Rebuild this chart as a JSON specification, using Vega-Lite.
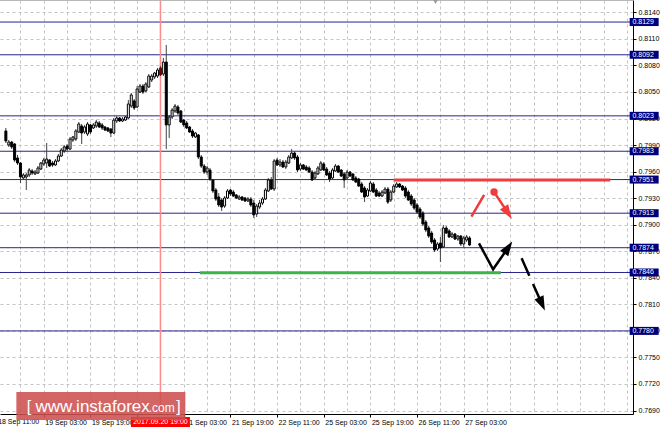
{
"$schema":"https://vega.github.io/schema/vega-lite/v6.json",
"width":633,"height":414,
"autosize":{"type":"none"},
"padding":{"left":0,"top":0,"right":31,"bottom":16},
"background":"#ffffff",
"config":{"view":{"stroke":null},"font":"Liberation Sans"},
"datasets":{
"levels":[{"v":0.8129},{"v":0.8092},{"v":0.8023},{"v":0.7983},{"v":0.7951},{"v":0.7913},{"v":0.7874},{"v":0.7846},{"v":0.7780}],
"cursor":[{"t":56}],
"hlines":[{"k":"support","x1":69.49,"x2":172.76,"v":0.78457},{"k":"resistance","x1":135.98,"x2":210.23,"v":0.79505}],
"redArrows":[{"s":"a","k":0,"x":162.63,"y":0.79090},{"s":"a","k":1,"x":167.0,"y":0.79336},{"s":"b","k":0,"x":170.4,"y":0.79369},{"s":"b","k":1,"x":174.82,"y":0.79150}],
"blackArrows":[{"s":"z","k":0,"x":165.24,"y":0.78790},{"s":"z","k":1,"x":170.07,"y":0.78496},{"s":"z","k":2,"x":174.92,"y":0.78726}],
"dashArrows":[{"s":"d","k":0,"x":179.85,"y":0.78620},{"s":"d","k":1,"x":186.57,"y":0.78123}],
"candles":[
{"i":3,"o":0.80059,"h":0.80093,"l":0.79923,"c":0.79946},
{"i":4,"o":0.79901,"h":0.79957,"l":0.79878,"c":0.79934},
{"i":5,"o":0.79934,"h":0.79946,"l":0.79855,"c":0.79878},
{"i":6,"o":0.79912,"h":0.79923,"l":0.79708,"c":0.79731},
{"i":7,"o":0.79754,"h":0.79788,"l":0.79675,"c":0.79697},
{"i":8,"o":0.79697,"h":0.79708,"l":0.79471,"c":0.79539},
{"i":9,"o":0.79528,"h":0.79584,"l":0.79505,"c":0.79562},
{"i":10,"o":0.79539,"h":0.79584,"l":0.79392,"c":0.79562},
{"i":11,"o":0.79562,"h":0.79641,"l":0.79539,"c":0.79618},
{"i":12,"o":0.79607,"h":0.79629,"l":0.79562,"c":0.79584},
{"i":13,"o":0.79573,"h":0.79618,"l":0.79562,"c":0.79595},
{"i":14,"o":0.79584,"h":0.79663,"l":0.79573,"c":0.79641},
{"i":15,"o":0.79629,"h":0.79708,"l":0.79618,"c":0.79697},
{"i":16,"o":0.79686,"h":0.79754,"l":0.79663,"c":0.79731},
{"i":17,"o":0.79697,"h":0.79923,"l":0.79641,"c":0.79742},
{"i":18,"o":0.79731,"h":0.79742,"l":0.79652,"c":0.79663},
{"i":19,"o":0.79697,"h":0.79720,"l":0.79652,"c":0.79675},
{"i":20,"o":0.79675,"h":0.79742,"l":0.79663,"c":0.79720},
{"i":21,"o":0.79720,"h":0.79799,"l":0.79708,"c":0.79776},
{"i":22,"o":0.79776,"h":0.79867,"l":0.79765,"c":0.79844},
{"i":23,"o":0.79833,"h":0.79901,"l":0.79810,"c":0.79878},
{"i":24,"o":0.79889,"h":0.79912,"l":0.79833,"c":0.79855},
{"i":25,"o":0.79855,"h":0.79991,"l":0.79844,"c":0.79968},
{"i":26,"o":0.79957,"h":0.80002,"l":0.79934,"c":0.79991},
{"i":27,"o":0.79968,"h":0.80081,"l":0.79946,"c":0.80059},
{"i":28,"o":0.80047,"h":0.80160,"l":0.80036,"c":0.80138},
{"i":29,"o":0.80115,"h":0.80138,"l":0.79912,"c":0.80036},
{"i":30,"o":0.80047,"h":0.80127,"l":0.80025,"c":0.80104},
{"i":31,"o":0.80025,"h":0.80160,"l":0.80002,"c":0.80138},
{"i":32,"o":0.80127,"h":0.80138,"l":0.80025,"c":0.80047},
{"i":33,"o":0.80093,"h":0.80149,"l":0.80081,"c":0.80127},
{"i":34,"o":0.80115,"h":0.80183,"l":0.80093,"c":0.80160},
{"i":35,"o":0.80149,"h":0.80172,"l":0.80093,"c":0.80104},
{"i":36,"o":0.80127,"h":0.80149,"l":0.80070,"c":0.80093},
{"i":37,"o":0.80104,"h":0.80115,"l":0.80059,"c":0.80070},
{"i":38,"o":0.80093,"h":0.80104,"l":0.80047,"c":0.80059},
{"i":39,"o":0.80081,"h":0.80093,"l":0.79991,"c":0.80036},
{"i":40,"o":0.80036,"h":0.80206,"l":0.80025,"c":0.80183},
{"i":41,"o":0.80172,"h":0.80228,"l":0.80149,"c":0.80206},
{"i":42,"o":0.80206,"h":0.80217,"l":0.80160,"c":0.80172},
{"i":43,"o":0.80172,"h":0.80217,"l":0.80160,"c":0.80194},
{"i":44,"o":0.80183,"h":0.80228,"l":0.80172,"c":0.80217},
{"i":45,"o":0.80206,"h":0.80409,"l":0.80194,"c":0.80364},
{"i":46,"o":0.80341,"h":0.80488,"l":0.80319,"c":0.80466},
{"i":47,"o":0.80398,"h":0.80420,"l":0.80296,"c":0.80319},
{"i":48,"o":0.80330,"h":0.80567,"l":0.80319,"c":0.80533},
{"i":49,"o":0.80499,"h":0.80590,"l":0.80488,"c":0.80567},
{"i":50,"o":0.80567,"h":0.80590,"l":0.80477,"c":0.80499},
{"i":51,"o":0.80511,"h":0.80612,"l":0.80499,"c":0.80590},
{"i":52,"o":0.80556,"h":0.80703,"l":0.80545,"c":0.80680},
{"i":53,"o":0.80635,"h":0.80703,"l":0.80612,"c":0.80680},
{"i":54,"o":0.80669,"h":0.80725,"l":0.80646,"c":0.80714},
{"i":55,"o":0.80680,"h":0.80771,"l":0.80658,"c":0.80748},
{"i":56,"o":0.80771,"h":0.80793,"l":0.80680,"c":0.80692},
{"i":57,"o":0.80703,"h":0.80884,"l":0.80680,"c":0.80838},
{"i":58,"o":0.80838,"h":0.81031,"l":0.79855,"c":0.80127},
{"i":59,"o":0.80127,"h":0.80240,"l":0.79980,"c":0.80217},
{"i":60,"o":0.80217,"h":0.80319,"l":0.80194,"c":0.80296},
{"i":61,"o":0.80285,"h":0.80364,"l":0.80262,"c":0.80341},
{"i":62,"o":0.80330,"h":0.80353,"l":0.80240,"c":0.80262},
{"i":63,"o":0.80285,"h":0.80296,"l":0.80149,"c":0.80160},
{"i":64,"o":0.80183,"h":0.80194,"l":0.80104,"c":0.80127},
{"i":65,"o":0.80149,"h":0.80172,"l":0.80081,"c":0.80093},
{"i":66,"o":0.80104,"h":0.80115,"l":0.80036,"c":0.80047},
{"i":67,"o":0.80059,"h":0.80081,"l":0.79980,"c":0.80002},
{"i":68,"o":0.79991,"h":0.80047,"l":0.79980,"c":0.80036},
{"i":69,"o":0.80014,"h":0.80025,"l":0.79742,"c":0.79765},
{"i":70,"o":0.79765,"h":0.79788,"l":0.79641,"c":0.79663},
{"i":71,"o":0.79663,"h":0.79686,"l":0.79573,"c":0.79595},
{"i":72,"o":0.79595,"h":0.79663,"l":0.79562,"c":0.79641},
{"i":73,"o":0.79618,"h":0.79641,"l":0.79494,"c":0.79516},
{"i":74,"o":0.79505,"h":0.79516,"l":0.79358,"c":0.79381},
{"i":75,"o":0.79392,"h":0.79415,"l":0.79268,"c":0.79290},
{"i":76,"o":0.79313,"h":0.79358,"l":0.79200,"c":0.79223},
{"i":77,"o":0.79279,"h":0.79302,"l":0.79155,"c":0.79200},
{"i":78,"o":0.79211,"h":0.79324,"l":0.79189,"c":0.79302},
{"i":79,"o":0.79302,"h":0.79403,"l":0.79290,"c":0.79381},
{"i":80,"o":0.79392,"h":0.79403,"l":0.79324,"c":0.79347},
{"i":81,"o":0.79369,"h":0.79392,"l":0.79313,"c":0.79324},
{"i":82,"o":0.79336,"h":0.79347,"l":0.79290,"c":0.79302},
{"i":83,"o":0.79290,"h":0.79336,"l":0.79279,"c":0.79313},
{"i":84,"o":0.79313,"h":0.79324,"l":0.79268,"c":0.79279},
{"i":85,"o":0.79302,"h":0.79313,"l":0.79256,"c":0.79268},
{"i":86,"o":0.79268,"h":0.79313,"l":0.79256,"c":0.79290},
{"i":87,"o":0.79290,"h":0.79313,"l":0.79200,"c":0.79223},
{"i":88,"o":0.79245,"h":0.79279,"l":0.79076,"c":0.79110},
{"i":89,"o":0.79121,"h":0.79234,"l":0.79087,"c":0.79211},
{"i":90,"o":0.79200,"h":0.79279,"l":0.79177,"c":0.79245},
{"i":91,"o":0.79245,"h":0.79313,"l":0.79223,"c":0.79290},
{"i":92,"o":0.79290,"h":0.79415,"l":0.79279,"c":0.79392},
{"i":93,"o":0.79381,"h":0.79528,"l":0.79369,"c":0.79505},
{"i":94,"o":0.79505,"h":0.79539,"l":0.79392,"c":0.79403},
{"i":95,"o":0.79403,"h":0.79742,"l":0.79381,"c":0.79720},
{"i":96,"o":0.79731,"h":0.79754,"l":0.79663,"c":0.79675},
{"i":97,"o":0.79675,"h":0.79742,"l":0.79652,"c":0.79708},
{"i":98,"o":0.79708,"h":0.79731,"l":0.79641,"c":0.79652},
{"i":99,"o":0.79652,"h":0.79731,"l":0.79629,"c":0.79708},
{"i":100,"o":0.79697,"h":0.79788,"l":0.79686,"c":0.79765},
{"i":101,"o":0.79754,"h":0.79855,"l":0.79742,"c":0.79810},
{"i":102,"o":0.79810,"h":0.79833,"l":0.79731,"c":0.79754},
{"i":103,"o":0.79765,"h":0.79788,"l":0.79595,"c":0.79618},
{"i":104,"o":0.79629,"h":0.79697,"l":0.79607,"c":0.79675},
{"i":105,"o":0.79675,"h":0.79686,"l":0.79618,"c":0.79629},
{"i":106,"o":0.79652,"h":0.79675,"l":0.79607,"c":0.79618},
{"i":107,"o":0.79641,"h":0.79663,"l":0.79584,"c":0.79595},
{"i":108,"o":0.79595,"h":0.79618,"l":0.79494,"c":0.79505},
{"i":109,"o":0.79528,"h":0.79607,"l":0.79516,"c":0.79584},
{"i":110,"o":0.79573,"h":0.79663,"l":0.79562,"c":0.79641},
{"i":111,"o":0.79618,"h":0.79720,"l":0.79607,"c":0.79697},
{"i":112,"o":0.79686,"h":0.79708,"l":0.79607,"c":0.79618},
{"i":113,"o":0.79629,"h":0.79652,"l":0.79550,"c":0.79562},
{"i":114,"o":0.79584,"h":0.79607,"l":0.79482,"c":0.79516},
{"i":115,"o":0.79528,"h":0.79641,"l":0.79505,"c":0.79618},
{"i":116,"o":0.79607,"h":0.79686,"l":0.79595,"c":0.79663},
{"i":117,"o":0.79663,"h":0.79675,"l":0.79584,"c":0.79595},
{"i":118,"o":0.79618,"h":0.79629,"l":0.79539,"c":0.79550},
{"i":119,"o":0.79573,"h":0.79595,"l":0.79415,"c":0.79505},
{"i":120,"o":0.79528,"h":0.79618,"l":0.79505,"c":0.79595},
{"i":121,"o":0.79595,"h":0.79607,"l":0.79539,"c":0.79550},
{"i":122,"o":0.79573,"h":0.79584,"l":0.79494,"c":0.79505},
{"i":123,"o":0.79528,"h":0.79550,"l":0.79471,"c":0.79482},
{"i":124,"o":0.79516,"h":0.79528,"l":0.79426,"c":0.79437},
{"i":125,"o":0.79460,"h":0.79482,"l":0.79358,"c":0.79369},
{"i":126,"o":0.79415,"h":0.79437,"l":0.79256,"c":0.79313},
{"i":127,"o":0.79324,"h":0.79415,"l":0.79313,"c":0.79392},
{"i":128,"o":0.79381,"h":0.79494,"l":0.79369,"c":0.79471},
{"i":129,"o":0.79460,"h":0.79482,"l":0.79358,"c":0.79369},
{"i":130,"o":0.79392,"h":0.79415,"l":0.79313,"c":0.79324},
{"i":131,"o":0.79358,"h":0.79381,"l":0.79313,"c":0.79324},
{"i":132,"o":0.79324,"h":0.79392,"l":0.79313,"c":0.79369},
{"i":133,"o":0.79358,"h":0.79426,"l":0.79347,"c":0.79403},
{"i":134,"o":0.79403,"h":0.79426,"l":0.79234,"c":0.79256},
{"i":135,"o":0.79279,"h":0.79392,"l":0.79256,"c":0.79369},
{"i":136,"o":0.79369,"h":0.79460,"l":0.79358,"c":0.79437},
{"i":137,"o":0.79426,"h":0.79482,"l":0.79415,"c":0.79460},
{"i":138,"o":0.79460,"h":0.79471,"l":0.79415,"c":0.79426},
{"i":139,"o":0.79437,"h":0.79449,"l":0.79381,"c":0.79392},
{"i":140,"o":0.79415,"h":0.79437,"l":0.79302,"c":0.79324},
{"i":141,"o":0.79369,"h":0.79392,"l":0.79268,"c":0.79279},
{"i":142,"o":0.79324,"h":0.79347,"l":0.79211,"c":0.79234},
{"i":143,"o":0.79279,"h":0.79302,"l":0.79166,"c":0.79189},
{"i":144,"o":0.79223,"h":0.79245,"l":0.79121,"c":0.79143},
{"i":145,"o":0.79177,"h":0.79200,"l":0.79064,"c":0.79087},
{"i":146,"o":0.79132,"h":0.79155,"l":0.78985,"c":0.79008},
{"i":147,"o":0.79030,"h":0.79053,"l":0.78917,"c":0.78940},
{"i":148,"o":0.78963,"h":0.78985,"l":0.78850,"c":0.78872},
{"i":149,"o":0.78906,"h":0.78929,"l":0.78782,"c":0.78804},
{"i":150,"o":0.78827,"h":0.78850,"l":0.78691,"c":0.78714},
{"i":151,"o":0.78725,"h":0.78804,"l":0.78703,"c":0.78782},
{"i":152,"o":0.78793,"h":0.78861,"l":0.78578,"c":0.78737},
{"i":153,"o":0.78748,"h":0.78997,"l":0.78737,"c":0.78963},
{"i":154,"o":0.78963,"h":0.78985,"l":0.78895,"c":0.78906},
{"i":155,"o":0.78929,"h":0.78951,"l":0.78850,"c":0.78861},
{"i":156,"o":0.78861,"h":0.78917,"l":0.78850,"c":0.78895},
{"i":157,"o":0.78895,"h":0.78906,"l":0.78827,"c":0.78838},
{"i":158,"o":0.78838,"h":0.78884,"l":0.78816,"c":0.78872},
{"i":159,"o":0.78872,"h":0.78884,"l":0.78759,"c":0.78782},
{"i":160,"o":0.78782,"h":0.78872,"l":0.78748,"c":0.78850},
{"i":161,"o":0.78827,"h":0.78884,"l":0.78804,"c":0.78861},
{"i":162,"o":0.78850,"h":0.78872,"l":0.78759,"c":0.78771}
]
},
"layer":[
{"data":{"name":"levels"},
 "mark":{"type":"rule","color":"#26268e","strokeWidth":1},
 "encoding":{"y":{"field":"v","type":"quantitative","title":null,
   "scale":{"domain":[0.76861,0.81539],"nice":false,"zero":false},
   "axis":{"orient":"right","title":null,"tickCount":60,
     "values":[0.769,0.772,0.775,0.778,0.781,0.784,0.787,0.790,0.793,0.796,0.799,0.802,0.805,0.808,0.811,0.814],
     "format":".4f","grid":true,"gridColor":"#c4c4c4","gridDash":[3,3],"gridWidth":1,
     "domain":true,"domainColor":"#000000","domainWidth":1,
     "ticks":true,"tickSize":3,"tickColor":"#000000",
     "labelFont":"Liberation Sans","labelFontSize":7,"labelColor":"#000000",
     "labelAlign":"left","labelBaseline":"middle","labelPadding":2,
     "labelFlush":false,"labelOverlap":false}}}},
{"data":{"name":"cursor"},
 "mark":{"type":"rule","color":"#ff8a8a","strokeWidth":1.5},
 "encoding":{"x":{"field":"t","type":"quantitative","title":null,
   "scale":{"domain":[2.70,216.33],"nice":false,"zero":false},
   "axis":{"orient":"bottom","title":null,"tickCount":100,
     "values":[8,16,24,32,40,48,56,64,72,80,88,96,104,112,120,128,136,144,152,160,168,176,184,192,200,208,216],
     "labelExpr":"datum.value == 16 ? '19 Sep 03:00' : datum.value == 32 ? '19 Sep 19:00' : datum.value == 64 ? '21 Sep 03:00' : datum.value == 80 ? '21 Sep 19:00' : datum.value == 96 ? '22 Sep 11:00' : datum.value == 112 ? '25 Sep 03:00' : datum.value == 128 ? '25 Sep 19:00' : datum.value == 144 ? '26 Sep 11:00' : datum.value == 160 ? '27 Sep 03:00' : ''",
     "grid":true,"gridColor":"#c4c4c4","gridDash":[3,3],"gridWidth":1,
     "domain":true,"domainColor":"#000000","domainWidth":1,
     "ticks":true,"tickSize":3,"tickColor":"#000000",
     "tickOpacity":{"condition":{"test":"datum.value % 16 == 0 && datum.value <= 160","value":1},"value":0},
     "labelFont":"Liberation Sans","labelFontSize":7,"labelColor":"#000000",
     "labelAlign":"left","labelBaseline":"top","labelPadding":1,"labelOffset":1,
     "labelFlush":false,"labelOverlap":false}}}},
{"data":{"values":[{}]},
 "mark":{"type":"text","color":"#000000","fontSize":7,"font":"Liberation Sans","align":"left","baseline":"top","dx":1,"text":"18 Sep 11:00"},
 "encoding":{"x":{"datum":0},"y":{"datum":0.76816}}},
{"data":{"values":[{}]},
 "mark":{"type":"rule","color":"#b4b4b4","strokeWidth":1},
 "encoding":{"y":{"datum":0.81534}}},
{"data":{"name":"hlines"},
 "mark":{"type":"rule","strokeWidth":3},
 "encoding":{"x":{"field":"x1","type":"quantitative","title":null},"x2":{"field":"x2"},
   "y":{"field":"v","type":"quantitative","title":null},
   "color":{"field":"k","type":"nominal","scale":{"domain":["support","resistance"],"range":["#3cb44b","#f03c3c"]},"legend":null}}},
{"data":{"name":"candles"},
 "mark":{"type":"rule","color":"#404040","strokeWidth":1},
 "encoding":{"x":{"field":"i","type":"quantitative","title":null},
   "y":{"field":"l","type":"quantitative","title":null},"y2":{"field":"h"}}},
{"data":{"name":"candles"},
 "mark":{"type":"bar","width":2,"strokeWidth":1,"orient":"vertical"},
 "encoding":{"x":{"field":"i","type":"quantitative","title":null},
   "y":{"field":"o","type":"quantitative","title":null},"y2":{"field":"c"},
   "fill":{"condition":[{"test":"datum.i == 56","value":"#7a0000"},{"test":"datum.c > datum.o","value":"#ffffff"}],"value":"#000000"},
   "stroke":{"condition":{"test":"datum.i == 56","value":"#7a0000"},"value":"#000000"}}},
{"data":{"name":"redArrows"},
 "mark":{"type":"line","color":"#f03c3c","strokeWidth":2.5},
 "encoding":{"x":{"field":"x","type":"quantitative","title":null},"y":{"field":"y","type":"quantitative","title":null},"detail":{"field":"s"},"order":{"field":"k"}}},
{"data":{"name":"blackArrows"},
 "mark":{"type":"line","color":"#000000","strokeWidth":2.5},
 "encoding":{"x":{"field":"x","type":"quantitative","title":null},"y":{"field":"y","type":"quantitative","title":null},"detail":{"field":"s"},"order":{"field":"k"}}},
{"data":{"name":"dashArrows"},
 "mark":{"type":"line","color":"#000000","strokeWidth":2.5,"strokeDash":[19,9]},
 "encoding":{"x":{"field":"x","type":"quantitative","title":null},"y":{"field":"y","type":"quantitative","title":null},"detail":{"field":"s"},"order":{"field":"k"}}},
{"data":{"values":[{"x":174.82,"y":0.79150}]},
 "mark":{"type":"point","shape":"M0,-1L0.55,0.6L-0.55,0.6Z","size":324,"filled":true,"color":"#f03c3c","opacity":1,"angle":147},
 "encoding":{"x":{"field":"x","type":"quantitative","title":null},"y":{"field":"y","type":"quantitative","title":null}}},
{"data":{"values":[{"x":174.92,"y":0.78726}]},
 "mark":{"type":"point","shape":"M0,-1L0.55,0.6L-0.55,0.6Z","size":324,"filled":true,"color":"#000000","opacity":1,"angle":34},
 "encoding":{"x":{"field":"x","type":"quantitative","title":null},"y":{"field":"y","type":"quantitative","title":null}}},
{"data":{"values":[{"x":186.57,"y":0.78123}]},
 "mark":{"type":"point","shape":"M0,-1L0.55,0.6L-0.55,0.6Z","size":324,"filled":true,"color":"#000000","opacity":1,"angle":156},
 "encoding":{"x":{"field":"x","type":"quantitative","title":null},"y":{"field":"y","type":"quantitative","title":null}}},
{"data":{"values":[{"x":170.4,"y":0.79369}]},
 "mark":{"type":"point","shape":"circle","size":55,"filled":true,"color":"#f03c3c","opacity":1},
 "encoding":{"x":{"field":"x","type":"quantitative","title":null},"y":{"field":"y","type":"quantitative","title":null}}},
{"data":{"name":"levels"},
 "mark":{"type":"point","shape":"M-1,-0.276H1V0.276H-1Z","size":841,"filled":true,"color":"#00007a","opacity":1},
 "encoding":{"x":{"datum":221.87},"y":{"field":"v","type":"quantitative","title":null}}},
{"data":{"name":"levels"},
 "mark":{"type":"text","color":"#ffffff","fontSize":7,"font":"Liberation Sans","align":"center","baseline":"middle","dx":-1},
 "encoding":{"x":{"datum":221.87},"y":{"field":"v","type":"quantitative","title":null},"text":{"field":"v","type":"quantitative","format":".4f"}}},
{"data":{"name":"cursor"},
 "mark":{"type":"point","shape":"M-1,-0.17H1V0.17H-1Z","size":3481,"filled":true,"color":"#ff0000","opacity":1},
 "encoding":{"x":{"field":"t","type":"quantitative","title":null},"y":{"datum":0.76770}}},
{"data":{"name":"cursor"},
 "mark":{"type":"text","color":"#ffffff","fontSize":7,"font":"Liberation Sans","align":"center","baseline":"middle","text":"2017.09.20 19:00"},
 "encoding":{"x":{"field":"t","type":"quantitative","title":null},"y":{"datum":0.76770}}},
{"data":{"values":[{}]},
 "mark":{"type":"point","shape":"M-1,-0.1657H1V0.1657H-1Z","size":28561,"filled":true,"color":"#cd5050","opacity":0.88},
 "encoding":{"x":{"datum":35.57},"y":{"datum":0.76951}}},
{"data":{"values":[{}]},
 "mark":{"type":"text","color":"#ffffff","fontSize":16,"font":"Liberation Sans","align":"left","baseline":"alphabetic","text":"["},
 "encoding":{"x":{"datum":10.12},"y":{"datum":0.76883}}},
{"data":{"values":[{}]},
 "mark":{"type":"text","color":"#ffffff","fontSize":17,"font":"Liberation Sans","align":"left","baseline":"alphabetic","text":"www.instaforex"},
 "encoding":{"x":{"datum":13.16},"y":{"datum":0.76883}}},
{"data":{"values":[{}]},
 "mark":{"type":"text","color":"#ffffff","fontSize":12,"font":"Liberation Sans","align":"left","baseline":"alphabetic","text":".com"},
 "encoding":{"x":{"datum":51.97},"y":{"datum":0.76883}}},
{"data":{"values":[{}]},
 "mark":{"type":"text","color":"#ffffff","fontSize":16,"font":"Liberation Sans","align":"left","baseline":"alphabetic","text":"]"},
 "encoding":{"x":{"datum":61.42},"y":{"datum":0.76883}}},
{"data":{"values":[{}]},
 "mark":{"type":"point","shape":"triangle-down","size":36,"filled":true,"color":"#9a9a9a","opacity":1},
 "encoding":{"x":{"datum":150.33},"y":{"datum":0.81524}}}
]
}
